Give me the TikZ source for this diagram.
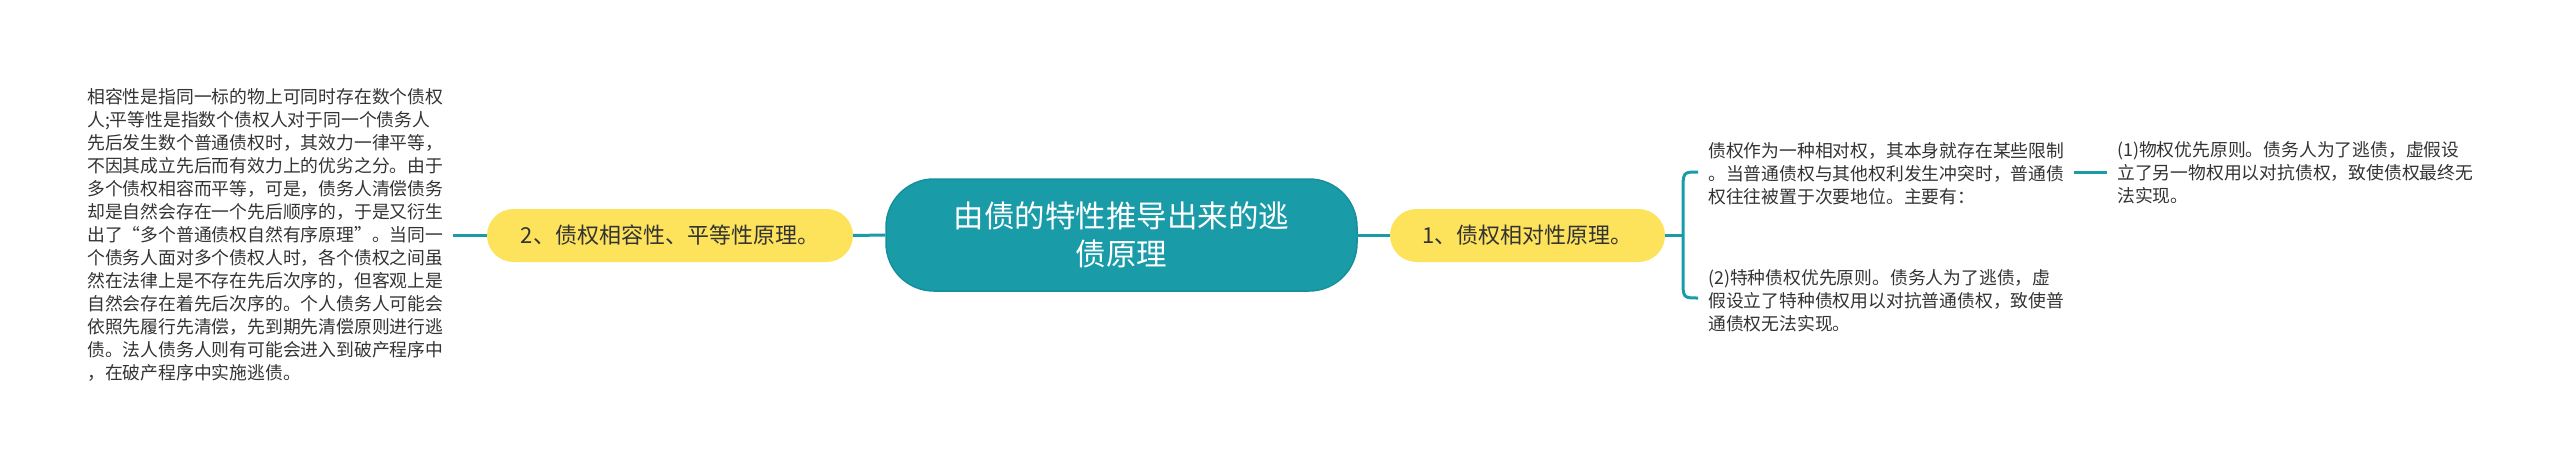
\documentclass[tikz,border=0pt]{standalone}
\usepackage{fontspec}
\newfontfamily\cjk{Noto Sans CJK SC}
\definecolor{teal1}{HTML}{1A9BA8}
\definecolor{teal2}{HTML}{168F9C}
\definecolor{yel}{HTML}{FDE35B}
\definecolor{txt}{HTML}{333333}
\tikzset{
  conn/.style={draw=teal1, line width=3pt},
  rootbox/.style={fill=teal1, draw=teal2, line width=1.5pt, rounded corners=48pt,
    minimum width=471pt, minimum height=112pt, align=center, text=white,
    font=\cjk\fontsize{30.5}{38}\selectfont, inner sep=0pt},
  branch/.style={fill=yel, draw=none, rounded corners=26.5pt, minimum height=53pt,
    align=center, text=txt, font=\cjk\fontsize{22}{26}\selectfont, inner sep=0pt},
  leaf/.style={align=left, text=txt, font=\cjk\fontsize{17.8}{23}\selectfont, inner sep=0pt},
}
\begin{document}
\begin{tikzpicture}[x=1pt,y=-1pt]
\useasboundingbox (0,0) rectangle (2560,471);
\node[rootbox] (root) at (1121.5,235) {由债的特性推导出来的逃\\债原理};
\node[branch, minimum width=366pt] (b2) at (670,235.5) {2、债权相容性、平等性原理。};
\node[branch, minimum width=275pt] (b1) at (1527.5,235.5) {1、债权相对性原理。};
\node[leaf, anchor=west] (l2) at (87,235) {相容性是指同一标的物上可同时存在数个债权\\人;平等性是指数个债权人对于同一个债务人\\先后发生数个普通债权时，其效力一律平等，\\不因其成立先后而有效力上的优劣之分。由于\\多个债权相容而平等，可是，债务人清偿债务\\却是自然会存在一个先后顺序的，于是又衍生\\出了“多个普通债权自然有序原理”。当同一\\个债务人面对多个债权人时，各个债权之间虽\\然在法律上是不存在先后次序的，但客观上是\\自然会存在着先后次序的。个人债务人可能会\\依照先履行先清偿，先到期先清偿原则进行逃\\债。法人债务人则有可能会进入到破产程序中\\，在破产程序中实施逃债。};
\node[leaf, anchor=west] (r1) at (1708,174) {债权作为一种相对权，其本身就存在某些限制\\。当普通债权与其他权利发生冲突时，普通债\\权往往被置于次要地位。主要有：};
\node[leaf, anchor=west] (r2) at (1708,301) {(2)特种债权优先原则。债务人为了逃债，虚\\假设立了特种债权用以对抗普通债权，致使普\\通债权无法实现。};
\node[leaf, anchor=west] (r3) at (2117,173) {(1)物权优先原则。债务人为了逃债，虚假设\\立了另一物权用以对抗债权，致使债权最终无\\法实现。};
\coordinate (br) at (1683,235.5);
\draw[conn] (root.west) -- (b2.east);
\draw[conn] (b2.west) -- ([xshift=10pt]l2.east |- b2.west);
\draw[conn] (root.east) -- (b1.east -| root.east) -- (b1.west);
\draw[conn] (b1.east) -- (br);
\draw[conn] ([xshift=-10pt]r1.west |- 0,172) .. controls (br |- 0,172) .. (br |- 0,192) -- (br |- 0,279) .. controls (br |- 0,298) .. ([xshift=-10pt]r2.west |- 0,298);
\draw[conn] ([xshift=10pt]r1.east |- 0,172) -- ([xshift=-10pt]r3.west |- 0,172);
\end{tikzpicture}
\end{document}
